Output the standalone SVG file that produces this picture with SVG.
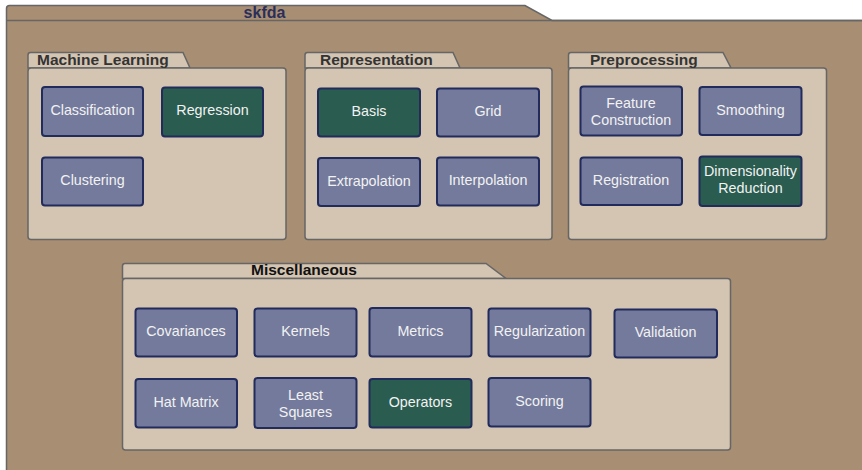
<svg xmlns="http://www.w3.org/2000/svg" width="862" height="470" viewBox="0 0 862 470">
<style>
.pkg{fill:#d4c4b2;stroke:#666;stroke-width:1.5}
.outer{fill:#a88e72;stroke:#666;stroke-width:1.5}
.n{fill:#747a9c;stroke:#212b5c;stroke-width:2}
.g{fill:#2a5c50;stroke:#212b5c;stroke-width:2}
.t{font-family:"Liberation Sans",Arial,sans-serif;font-size:14.3px;fill:#f2f2f2;text-anchor:middle}
.pt{font-family:"Liberation Sans",Arial,sans-serif;font-size:15.5px;font-weight:bold;fill:#333}
</style>
<rect width="862" height="470" fill="#ffffff"/>
<g id="skfda">
<path class="outer" d="M6.5,470 L6.5,8.5 Q6.5,5.5 9.5,5.5 L525,5.5 L552,20.5 L870,20.5 L870,480 L6.5,480 Z"/>
<line x1="6.5" y1="20.5" x2="862" y2="20.5" stroke="#666" stroke-width="1.5"/>
<text x="264.5" y="18" class="pt" style="fill:#2b2e5a;text-anchor:middle;font-size:16px">skfda</text>
</g>
<g id="machine-learning">
<path class="pkg" d="M28,68 L28,55 Q28,52.5 30.5,52.5 L183,52.5 L190,68 Z"/>
<path class="pkg" d="M28,71 Q28,68 31,68 L283,68 Q286,68 286,71 L286,236.5 Q286,239.5 283,239.5 L31,239.5 Q28,239.5 28,236.5 Z"/>
<text x="37" y="65" class="pt">Machine Learning</text>
</g>
<g id="representation">
<path class="pkg" d="M305,68 L305,55 Q305,52.5 307.5,52.5 L453,52.5 L460,68 Z"/>
<path class="pkg" d="M305,71 Q305,68 308,68 L549,68 Q552,68 552,71 L552,236.5 Q552,239.5 549,239.5 L308,239.5 Q305,239.5 305,236.5 Z"/>
<text x="320" y="65" class="pt">Representation</text>
</g>
<g id="preprocessing">
<path class="pkg" d="M568.5,68 L568.5,55 Q568.5,52.5 571,52.5 L723,52.5 L731,68 Z"/>
<path class="pkg" d="M568.5,71 Q568.5,68 571.5,68 L823.5,68 Q826.5,68 826.5,71 L826.5,236.5 Q826.5,239.5 823.5,239.5 L571.5,239.5 Q568.5,239.5 568.5,236.5 Z"/>
<text x="590" y="65" class="pt">Preprocessing</text>
</g>
<g id="miscellaneous">
<path class="pkg" d="M122.5,278.5 L122.5,266 Q122.5,263.5 125,263.5 L486,263.5 L506,278.5 Z"/>
<path class="pkg" d="M122.5,281.5 Q122.5,278.5 125.5,278.5 L727.5,278.5 Q730.5,278.5 730.5,281.5 L730.5,447 Q730.5,450 727.5,450 L125.5,450 Q122.5,450 122.5,447 Z"/>
<text x="251" y="275" class="pt" style="fill:#111">Miscellaneous</text>
</g>
<g id="classification"><rect class="n" x="42" y="87" width="101" height="49" rx="3"/><text class="t" x="92.5" y="114.5">Classification</text></g>
<g id="regression"><rect class="g" x="162" y="87.5" width="101" height="49" rx="3"/><text class="t" x="212.5" y="115">Regression</text></g>
<g id="clustering"><rect class="n" x="42" y="157.5" width="101" height="48" rx="3"/><text class="t" x="92.5" y="185">Clustering</text></g>
<g id="basis"><rect class="g" x="318" y="88.5" width="102" height="48" rx="3"/><text class="t" x="369" y="116">Basis</text></g>
<g id="grid"><rect class="n" x="437" y="88.5" width="102" height="48" rx="3"/><text class="t" x="488" y="116">Grid</text></g>
<g id="extrapolation"><rect class="n" x="318" y="158" width="102" height="48" rx="3"/><text class="t" x="369" y="185.5">Extrapolation</text></g>
<g id="interpolation"><rect class="n" x="437" y="157.5" width="102" height="48" rx="3"/><text class="t" x="488" y="184.5">Interpolation</text></g>
<g id="feature-construction"><rect class="n" x="580.5" y="86.5" width="101.5" height="49" rx="3"/><text class="t" x="631" y="107.5">Feature</text><text class="t" x="631" y="124.5">Construction</text></g>
<g id="smoothing"><rect class="n" x="699.5" y="87" width="102" height="48" rx="3"/><text class="t" x="750.5" y="114.5">Smoothing</text></g>
<g id="registration"><rect class="n" x="580.5" y="157.5" width="101.5" height="47.5" rx="3"/><text class="t" x="631" y="184.5">Registration</text></g>
<g id="dimensionality-reduction"><rect class="g" x="699.5" y="156.5" width="102" height="49.5" rx="3"/><text class="t" x="750.5" y="175.5">Dimensionality</text><text class="t" x="750.5" y="192.5">Reduction</text></g>
<g id="covariances"><rect class="n" x="135.5" y="308.5" width="101.5" height="48" rx="3"/><text class="t" x="186" y="336">Covariances</text></g>
<g id="kernels"><rect class="n" x="254.5" y="308.5" width="102" height="48" rx="3"/><text class="t" x="305.5" y="336">Kernels</text></g>
<g id="metrics"><rect class="n" x="369.5" y="308" width="102" height="48.5" rx="3"/><text class="t" x="420.5" y="335.5">Metrics</text></g>
<g id="regularization"><rect class="n" x="488.5" y="308.5" width="102" height="48" rx="3"/><text class="t" x="539.5" y="335.5">Regularization</text></g>
<g id="validation"><rect class="n" x="614.5" y="309.5" width="102.5" height="48" rx="3"/><text class="t" x="665.5" y="337">Validation</text></g>
<g id="hat-matrix"><rect class="n" x="135.5" y="379" width="101.5" height="48.5" rx="3"/><text class="t" x="186" y="406.5">Hat Matrix</text></g>
<g id="least-squares"><rect class="n" x="254.5" y="378" width="102" height="50" rx="3"/><text class="t" x="305.5" y="400">Least</text><text class="t" x="305.5" y="417">Squares</text></g>
<g id="operators"><rect class="g" x="369.5" y="379" width="102" height="48.5" rx="3"/><text class="t" x="420.5" y="406.5">Operators</text></g>
<g id="scoring"><rect class="n" x="488.5" y="378" width="102" height="48.5" rx="3"/><text class="t" x="539.5" y="405.5">Scoring</text></g>
<g id="connectors"></g>
</svg>
